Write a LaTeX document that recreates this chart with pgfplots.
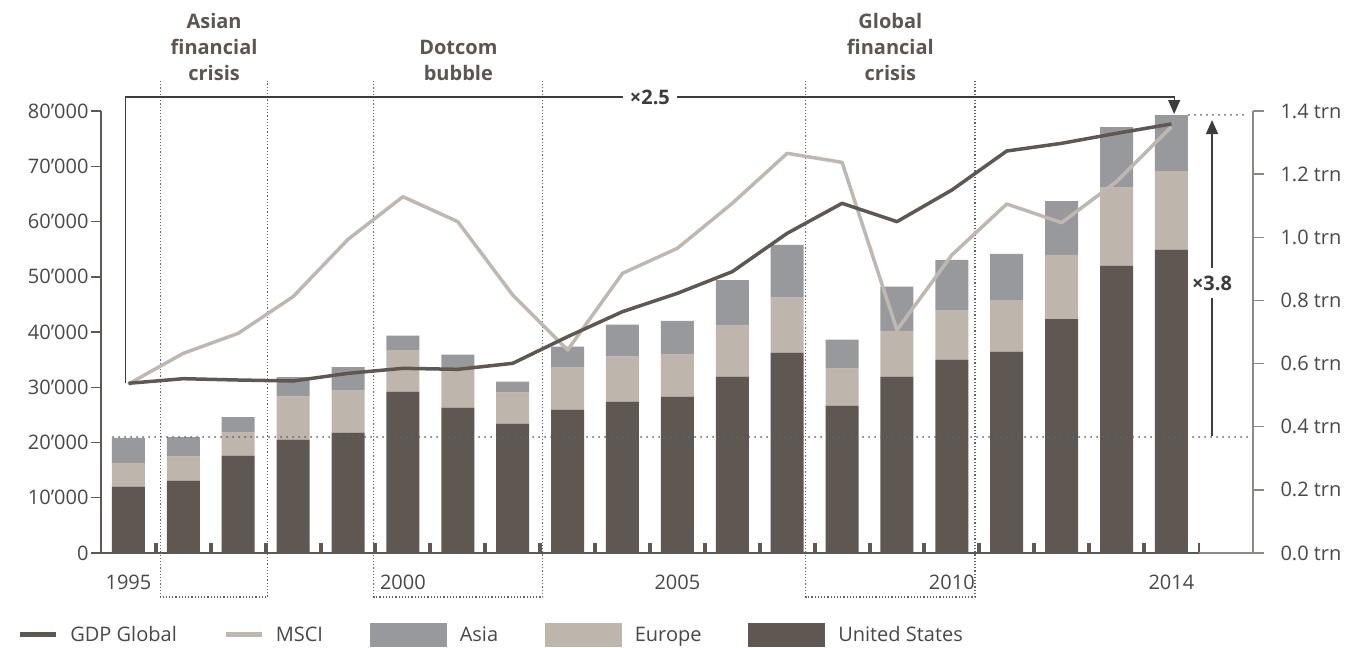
\documentclass[border=0pt]{standalone}
\usepackage{pgfplots}
\pgfplotsset{compat=1.18}
\usepackage{pgfplotstable}
\usepackage{fontspec}
\setmainfont{Open Sans}
\usetikzlibrary{arrows.meta}
\definecolor{usc}{RGB}{94,87,82}
\definecolor{euc}{RGB}{190,181,172}
\definecolor{asc}{RGB}{152,153,157}
\definecolor{msc}{RGB}{192,184,176}
\definecolor{txt}{RGB}{72,72,72}
\definecolor{lab}{RGB}{92,85,80}
\definecolor{rax}{RGB}{140,136,132}
\definecolor{dotc}{RGB}{100,100,100}
\definecolor{annc}{RGB}{60,60,60}

\pgfplotstableread{
year us eu as gdp msci
1995 12006 4284 4525 30714 30590
1996 13092 4344 3559 31550 36140
1997 17616 4163 2836 31310 39760
1998 20512 7783 3559 31130 46400
1999 21779 7602 4283 32520 56770
2000 29200 7420 2715 33424 64490
2001 26304 6998 2594 33243 59970
2002 23408 5611 1991 34329 46700
2003 25942 7601 3801 39150 36740
2004 27390 8144 5792 43680 50620
2005 28295 7601 6124 47000 55150
2006 31914 9386 8112 50920 63290
2007 36258 9956 9533 57860 72340
2008 26666 6696 5249 63290 70710
2009 31914 8296 7995 59975 40360
2010 34991 8991 9050 65700 53940
2011 36439 9353 8326 72760 63170
2012 42353 11584 9773 74150 59790
2013 52006 14118 10980 75960 67210
2014 54902 14238 10136 77650 77160
}\datatab

\newcommand{\tf}{\fontsize{20}{24}\selectfont}
\pgfplotsset{base/.style={at={(0pt,0pt)}, anchor=south west, scale only axis,
  width=1152pt, height=442pt, xmin=1994.5, xmax=2015.486, ymin=0, ymax=80000, clip=false,
  scaled y ticks=false, scaled x ticks=false}}
\tikzset{crisis/.style={dotc, line width=1.2pt, dash pattern=on 1.2pt off 2pt}}

\begin{document}
\begin{tikzpicture}
\useasboundingbox (-101pt,-95pt) rectangle (1244pt,553pt);
% ---------- axis 1: bars, left axis, frame
\begin{axis}[base,
  ybar stacked, bar width=33pt,
  axis x line*=bottom, axis y line*=left,
  x axis line style={draw=none},
  y axis line style={-, line width=2pt, usc},
  tick align=outside,
  major tick length=10pt,
  xtick={1995.5,1996.5,1997.5,1998.5,1999.5,2000.5,2001.5,2002.5,2003.5,2004.5,2005.5,2006.5,2007.5,2008.5,2009.5,2010.5,2011.5,2012.5,2013.5},
  xticklabels={},
  xtick style={line width=4pt, usc, yshift=10pt},
  extra x ticks={1995,2000,2005,2010,2014},
  extra x tick labels={1995,2000,2005,2010,2014},
  extra x tick style={major tick length=0pt},
  xticklabel style={yshift=-18pt},
  ytick={0,10000,20000,30000,40000,50000,60000,70000,80000},
  yticklabels={0,10’000,20’000,30’000,40’000,50’000,60’000,70’000,80’000},
  ytick style={line width=1.5pt, usc},
  yticklabel style={xshift=1pt},
  ticklabel style={font=\tf, text=txt},
]
\draw[dotc, line width=2pt, line cap=round, dash pattern=on 0pt off 6pt]
  (axis cs:1994.72,21000) -- (axis cs:2015.39,21000);
\addplot[fill=usc, draw=none] table[x=year,y=us]{\datatab};
\addplot[fill=euc, draw=none] table[x=year,y=eu]{\datatab};
\addplot[fill=asc, draw=none] table[x=year,y=as]{\datatab};
% baseline
\draw[usc, line width=2.5pt] (axis cs:1994.5,0) -- (axis cs:2014.5,0);
\draw[rax, line width=1.2pt] (axis cs:2014.5,0) -- (axis cs:2015.486,0);
\draw[usc, line width=1.3pt] (axis cs:2014.5,0) -- (axis cs:2014.5,1800);
% crisis boxes
\draw[crisis] (axis cs:1995.58,85430) -- (axis cs:1995.58,-7964) -- (axis cs:1997.54,-7964) -- (axis cs:1997.54,85430);
\draw[crisis] (axis cs:1999.47,85430) -- (axis cs:1999.47,-7964) -- (axis cs:2002.55,-7964) -- (axis cs:2002.55,85430);
\draw[crisis] (axis cs:2007.34,85430) -- (axis cs:2007.34,-7964) -- (axis cs:2010.42,-7964) -- (axis cs:2010.42,85430);
\draw[dotc, line width=2pt, line cap=round, dash pattern=on 0pt off 6pt]
  (axis cs:2014.32,79300) -- (axis cs:2015.39,79300);
\end{axis}

% ---------- axis 2: lines, annotations, legend
\begin{axis}[base, hide axis,
  legend columns=5,
  legend cell align=left,
  legend style={at={(-0.0722,-0.1855)}, anchor=west, draw=none, fill=none,
    inner sep=0pt, outer sep=0pt, font=\tf, text=txt, nodes={inner sep=0pt},
    /tikz/every even column/.append style={column sep=46.5pt}},
]
\addplot[msc, line width=3.5pt, line join=round, forget plot] table[x=year,y=msci]{\datatab};
\addplot[usc, line width=3.5pt, line join=round, forget plot] table[x=year,y=gdp]{\datatab};

\addlegendimage{legend image code/.code={\path[draw=none,fill=none] (0pt,-11.5pt) rectangle (50pt,11.5pt); \draw[usc, line width=5pt] (0pt,0pt) -- (36pt,0pt);}}
\addlegendentry{GDP Global}
\addlegendimage{legend image code/.code={\path[draw=none,fill=none] (0pt,-11.5pt) rectangle (50pt,11.5pt); \draw[msc, line width=5pt] (0pt,0pt) -- (36pt,0pt);}}
\addlegendentry{MSCI}
\addlegendimage{legend image code/.code={\path[draw=none,fill=none] (0pt,-11.5pt) rectangle (90pt,11.5pt); \fill[asc] (0pt,-11.5pt) rectangle (76pt,11.5pt);}}
\addlegendentry{Asia}
\addlegendimage{legend image code/.code={\path[draw=none,fill=none] (0pt,-11.5pt) rectangle (90pt,11.5pt); \fill[euc] (0pt,-11.5pt) rectangle (76pt,11.5pt);}}
\addlegendentry{Europe}
\addlegendimage{legend image code/.code={\path[draw=none,fill=none] (0pt,-11.5pt) rectangle (90pt,11.5pt); \fill[usc] (0pt,-11.5pt) rectangle (76pt,11.5pt);}}
\addlegendentry{United States}

% x2.5 bracket
\draw[annc, line width=1.3pt, -{Triangle[width=12pt,length=14pt]}]
  (axis cs:1994.95,30714) -- (axis cs:1994.95,82534) -- (axis cs:2014.05,82534) -- (axis cs:2014.05,79457);
\node[fill=white, inner xsep=7pt, inner ysep=2pt, font=\bfseries\tf, text=annc] at (axis cs:2004.5,82534) {×2.5};
% x3.8 arrow
\draw[annc, line width=1.3pt, -{Triangle[width=12pt,length=14pt]}]
  (axis cs:2014.74,21176) -- (axis cs:2014.74,78371);
\node[fill=white, inner xsep=1pt, inner ysep=8pt, font=\bfseries\tf, text=annc] at (axis cs:2014.74,48869) {×3.8};
% crisis labels
\node[align=center, font=\bfseries\fontsize{20}{26}\selectfont, text=lab] at (axis cs:1996.56,91584) {Asian\\financial\\crisis};
\node[align=center, font=\bfseries\fontsize{20}{26}\selectfont, text=lab] at (axis cs:2001.01,89230) {Dotcom\\bubble};
\node[align=center, font=\bfseries\fontsize{20}{26}\selectfont, text=lab] at (axis cs:2008.88,91584) {Global\\financial\\crisis};
\end{axis}

% ---------- axis 3: right axis
\begin{axis}[base, ymax=1.4,
  axis x line=none, axis y line*=right,
  y axis line style={-, line width=1.3pt, rax},
  tick align=outside, major tick length=11pt,
  ytick={0,0.2,0.4,0.6,0.8,1.0,1.2,1.4},
  yticklabels={0.0 trn,0.2 trn,0.4 trn,0.6 trn,0.8 trn,1.0 trn,1.2 trn,1.4 trn},
  ytick style={line width=1.3pt, rax},
  yticklabel style={font=\tf, text=txt, xshift=13pt},
]
\end{axis}
\end{tikzpicture}
\end{document}
